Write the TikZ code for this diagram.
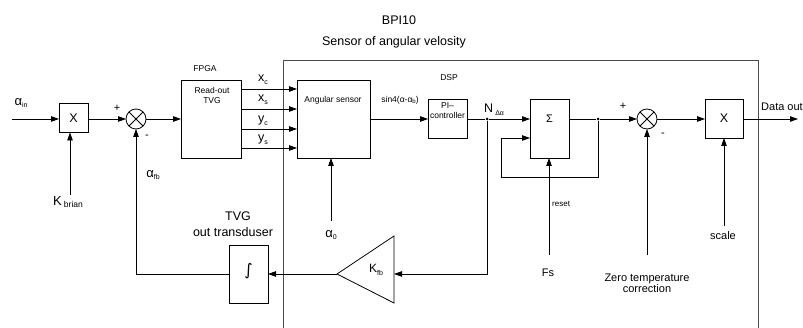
\documentclass[tikz,border=0pt]{standalone}
\usepackage{fontspec}
\setmainfont{Liberation Sans}
\newfontfamily\dejavu{DejaVu Sans}
\usetikzlibrary{arrows.meta}
\newcommand\subtxt[2]{#1\raisebox{-0.4ex}{\fontsize{7}{7}\selectfont #2}}
\begin{document}
\begin{tikzpicture}[x=1pt,y=-1pt,
  blk/.style={draw, line width=0.8pt, inner sep=0pt, outer sep=0pt},
  ln/.style={line width=0.8pt},
  arr/.style={line width=0.8pt, -{Triangle[length=8pt,width=5.5pt]}},
  sumj/.style={draw, circle, line width=0.8pt, minimum size=20pt, inner sep=0pt, outer sep=0pt,
    path picture={\draw[line width=0.8pt] (path picture bounding box.north west) -- (path picture bounding box.south east)
      (path picture bounding box.north east) -- (path picture bounding box.south west);}},
  small/.style={inner sep=0pt, font=\fontsize{8.5}{10.5}\selectfont},
  mid/.style={inner sep=0pt, font=\fontsize{11}{12}\selectfont},
  big/.style={inner sep=0pt, font=\fontsize{12.5}{14}\selectfont},
  dotn/.style={circle, fill, inner sep=0pt, minimum size=3pt}]
\useasboundingbox (0,0) rectangle (803,328);
% title
\node[big] (t1) at (399,20) {BPI10};
\node[big] (t2) at (394,42) {Sensor of angular velosity};
% big enclosure
\draw[line width=1pt, draw=black!70] (283,329) -- (283,61) -- (758,61) -- (758,329);
% blocks
\node[blk, minimum width=29pt, minimum height=29pt, font=\fontsize{12.5}{13}\selectfont] (mul1) at (73.5,118) {X};
\node[sumj] (sum1) at (136,119) {};
\node[blk, minimum width=60pt, minimum height=78pt] (fpga) at (211,119) {};
\node[blk, minimum width=73pt, minimum height=78pt] (as) at (333.5,119) {};
\node[blk, minimum width=39pt, minimum height=39pt] (pi) at (447.5,118.5) {};
\node[blk, minimum width=39pt, minimum height=59pt] (sig) at (549.5,128.5) {};
\node[sumj] (sum2) at (647,119) {};
\node[blk, minimum width=38pt, minimum height=39pt, font=\fontsize{12.5}{13}\selectfont] (mul2) at (724,118.5) {X};
\node[blk, minimum width=39pt, minimum height=58pt] (int) at (248.5,274) {};
\node[inner sep=0pt, font=\dejavu\fontsize{16}{16}\selectfont] (intsym) at (248.5,271) {∫};
% K_fb triangle
\coordinate (kfbl) at (337,274);
\coordinate (kfbr) at (394,274);
\draw[ln] (kfbl) -- (394,236) -- (394,303) -- cycle;
\node[inner sep=0pt, font=\fontsize{12}{12}\selectfont] (kfbt) at (376,270) {\subtxt{K}{fb}};
% texts inside blocks
\node[small, align=center] (fpgat) at (212,95.5) {Read-out\\TVG};
\node[small] (fpgal) at (205,69) {FPGA};
\node[small] (ast) at (333,100) {Angular sensor};
\node[small, align=center, font=\fontsize{8.5}{10}\selectfont] (pit) at (447.5,111) {PI–\\controller};
\node[small] (dsp) at (449,78) {DSP};
\node[small] (sint) at (400,100) {sin4(α-α\raisebox{-0.4ex}{\fontsize{6}{6}\selectfont b})};
\node[inner sep=0pt, font=\fontsize{11}{11}\selectfont] (sigt) at (549.5,119) {Σ};
% coordinates for free ends
\coordinate (ain) at (12,119);
\coordinate (kb) at (70,195);
\coordinate (a0) at (331,221);
\coordinate (fs) at (549,255);
\coordinate (zt) at (647,255);
\coordinate (sc) at (724,226);
\coordinate (dout) at (798,119);
\coordinate (fb1) at (501,177);
\node[dotn] (d1) at (487,119) {};
\node[dotn] (d2) at (598,119) {};
% connectors
\draw[arr] (ain) -- (mul1.west |- ain);
\draw[arr] (mul1.east |- sum1) -- (sum1.west);
\draw[arr] (sum1.east) -- (fpga.west);
\draw[arr] ([yshift=30pt]fpga.east) -- ([yshift=30pt]as.west);
\draw[arr] ([yshift=10pt]fpga.east) -- ([yshift=10pt]as.west);
\draw[arr] ([yshift=-10pt]fpga.east) -- ([yshift=-10pt]as.west);
\draw[arr] ([yshift=-29pt]fpga.east) -- ([yshift=-29pt]as.west);
\draw[arr] (as.east) -- (pi.west |- as.east);
\draw[ln] (pi.east |- d1) -- (d1);
\draw[arr] (d1) -- (sig.west |- d1);
\draw[ln] (sig.east |- d2) -- (d2);
\draw[arr] (d2) -- (sum2.west);
\draw[arr] (d2) |- (fb1) |- ([yshift=-9.5pt]sig.west);
\draw[arr] (sum2.east) -- (mul2.west |- sum2);
\draw[arr] (mul2.east |- dout) -- (dout);
\draw[arr] (fs) -- (fs |- sig.south);
\draw[arr] (zt) -- (sum2.south);
\draw[arr] (sc) -- (sc |- mul2.south);
\draw[arr] (a0) -- (a0 |- as.south);
\draw[arr] (kb) -- (kb |- mul1.south);
\draw[arr] (d1) |- (kfbr);
\draw[arr] (kfbl) -- (int.east);
\draw[arr] (int.west) -| (sum1.south);
% labels
\node[inner sep=0pt, font=\fontsize{13}{13}\selectfont] (lain) at (21,103) {\subtxt{α}{in}};
\node[inner sep=0pt, font=\fontsize{13}{13}\selectfont] (lkb) at (68,202) {K\,\raisebox{-0.4ex}{\fontsize{8.5}{8.5}\selectfont brian}};
\node[inner sep=0pt, font=\fontsize{13}{13}\selectfont] (lafb) at (153,175) {\subtxt{α}{fb}};
\node[inner sep=0pt, font=\fontsize{13}{13}\selectfont] (la0) at (331,235) {\subtxt{α}{0}};
\node[mid] (p1) at (117,108) {+};
\node[mid] (m1) at (147,137) {-};
\node[mid] (p2) at (623,106) {+};
\node[mid] (m2) at (663,135) {-};
\node[inner sep=0pt, font=\fontsize{12.5}{12.5}\selectfont] (lxc) at (263,80) {\subtxt{x}{c}};
\node[inner sep=0pt, font=\fontsize{12.5}{12.5}\selectfont] (lxs) at (263,100) {\subtxt{x}{s}};
\node[inner sep=0pt, font=\fontsize{12.5}{12.5}\selectfont] (lyc) at (263,121) {\subtxt{y}{c}};
\node[inner sep=0pt, font=\fontsize{12.5}{12.5}\selectfont] (lys) at (263,140) {\subtxt{y}{s}};
\node[inner sep=0pt, font=\fontsize{12.5}{12.5}\selectfont, anchor=west] (ln) at (484,110) {N\,\raisebox{-0.5ex}{\fontsize{7}{7}\selectfont Δα}};
\node[mid] (ldo) at (782,107) {Data out};
\node[small, font=\fontsize{8}{8}\selectfont, anchor=west] (lrs) at (552,204) {reset};
\node[mid] (lfs) at (548,273) {Fs};
\node[mid, align=center, font=\fontsize{11}{11}\selectfont] (lzt) at (647,283.5) {Zero temperature\\correction};
\node[mid] (lsc) at (723,236) {scale};
\node[big] (ltvg) at (238,216) {TVG};
\node[big] (lot) at (233,232) {out transduser};
\end{tikzpicture}
\end{document}
